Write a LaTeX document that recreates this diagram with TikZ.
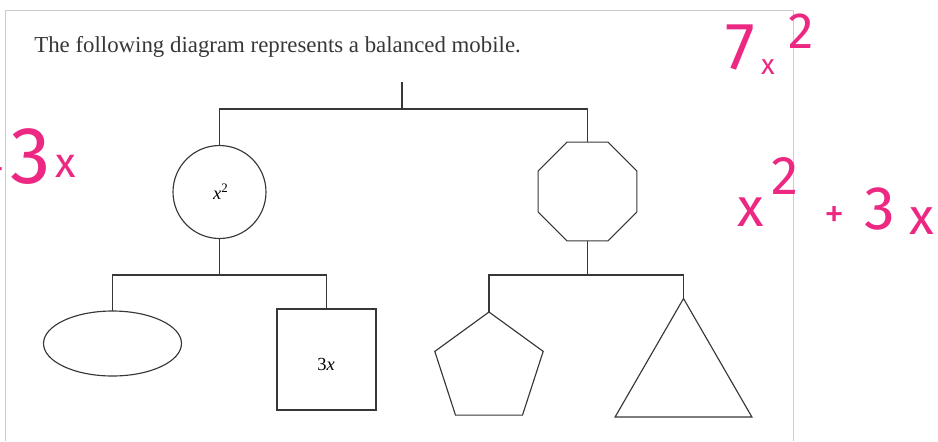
\documentclass[tikz,border=0pt]{standalone}
\usepackage{fontspec}
\setmainfont{Liberation Serif}
\IfFontExistsTF{FiraSans-Light.otf}
  {\newfontfamily\hand{FiraSans-Light.otf}}
  {\newfontfamily\hand{Fira Sans}}
\usetikzlibrary{shapes.geometric}
\definecolor{ink}{RGB}{55,55,55}
\definecolor{marker}{RGB}{236,40,130}
\definecolor{framegray}{RGB}{205,205,205}

\begin{document}
\begin{tikzpicture}[x=0.02cm,y=-0.02cm,
  wire/.style={draw=ink,line width=0.65pt},
  weight/.style={draw=ink,line width=0.65pt,inner sep=0pt,outer sep=0pt},
  hw/.style={text=marker,inner sep=0pt,font=\hand\fontsize{#1}{#1}\selectfont},
  lbl/.style={inner sep=0pt,text=black,font=\fontsize{10.5}{12}\selectfont}]

\useasboundingbox (0,0) rectangle (938,441);

% page frame
\draw[framegray,line width=0.4pt] (5,441) -- (5,10) -- (793,10) -- (793,441);

% heading
\node[anchor=base west,inner sep=0pt,text=ink,font=\fontsize{13}{15}\selectfont]
  (title) at (34,52) {The following diagram represents a balanced mobile.};

% weights
\node[weight,circle,minimum size=1.86cm] (c) at (219.5,192) {};
\node[lbl] (cl) at (221,192) {\textit{x}\textsuperscript{2}};
\node[weight,regular polygon,regular polygon sides=8,minimum size=2.14cm] (oct) at (587.5,191.5) {};
\node[weight,ellipse,minimum width=2.76cm,minimum height=1.30cm] (ell) at (112.5,343.5) {};
\node[weight,rectangle,minimum width=1.98cm,minimum height=2.02cm] (sq) at (326.5,359.5) {};
\node[lbl] (sql) at (326,364) {3\textit{x}};
\node[weight,regular polygon,regular polygon sides=5,minimum size=2.28cm] (pent) at (489,369) {};
\node[weight,regular polygon,regular polygon sides=3,minimum size=3.16cm] (tri) at (683.5,377.5) {};

% rods and strings
\coordinate (hook) at (402,82);
\coordinate (bar1) at (402,109);
\coordinate (bar2) at (219.5,275);
\coordinate (bar3) at (587.5,275);

\draw[wire] (hook) -- (bar1);
\draw[wire] (c.north) -- (c.north |- bar1) -- (oct.north |- bar1) -- (oct.north);
\draw[wire] (c.south) -- (bar2);
\draw[wire] (ell.north) -- (ell.north |- bar2) -- (sq.north |- bar2) -- (sq.north);
\draw[wire] (oct.south) -- (bar3);
\draw[wire] (pent.north) -- (pent.north |- bar3) -- (tri.north |- bar3) -- (tri.north);

% marker notes
\node[hw=38] (n7) at (740,47) {7};
\node[hw=16] (nx1) at (768,67) {x};
\node[hw=29] (n2a) at (801,31) {2};

\node[hw=23] (np1) at (-5,172) {+};
\node[hw=46] (n3a) at (31,157) {3};
\node[hw=24] (nx2) at (66,166) {x};

\node[hw=31] (nx3) at (751,212) {x};
\node[hw=31] (n2b) at (785,176) {2};
\node[hw=23] (np2) at (835,217) {+};
\node[hw=35] (n3b) at (880,209) {3};
\node[hw=29] (nx4) at (922,221) {x};
\end{tikzpicture}
\end{document}
